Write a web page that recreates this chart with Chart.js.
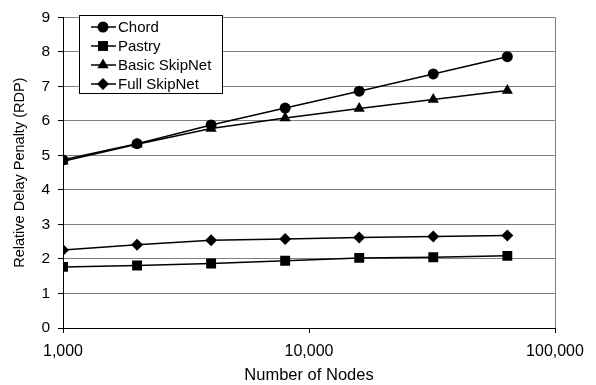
<!DOCTYPE html>
<html>
<head>
<meta charset="utf-8">
<script src="https://cdn.jsdelivr.net/npm/chart.js@4.4.0/dist/chart.umd.min.js"></script>
<style>
  html, body { margin: 0; padding: 0; background: #fff; }
  #wrap { width: 596px; height: 385px; }
</style>
</head>
<body>
<div id="wrap"><canvas id="c" width="596" height="385"></canvas></div>
<script>
// number of nodes (x) and RDP per system
var nodes = [1000, 2000, 4000, 8000, 16000, 32000, 64000];
var xTicks = [1000, 10000, 100000];
var chord = [4.87, 5.34, 5.88, 6.37, 6.86, 7.36, 7.86];
var pastry = [1.77, 1.81, 1.87, 1.95, 2.03, 2.05, 2.09];
var basicSkipNet = [4.83, 5.32, 5.78, 6.08, 6.36, 6.62, 6.88];
var fullSkipNet = [2.26, 2.41, 2.54, 2.58, 2.62, 2.65, 2.68];

var FONT = 'Liberation Sans, Arial, sans-serif';

function pts(vals) {
  return vals.map(function (v, i) { return { x: nodes[i], y: v }; });
}

function series(label, vals, style, r) {
  return {
    label: label,
    data: pts(vals),
    borderColor: '#000',
    backgroundColor: '#000',
    borderWidth: 1.5,
    pointStyle: style,
    pointRadius: r,
    pointHoverRadius: r,
    pointBorderWidth: 0,
    pointBackgroundColor: '#000',
    tension: 0
  };
}

// legend box with line + marker, like the original
var boxLegend = {
  id: 'boxLegend',
  afterDraw: function (chart) {
    var ctx = chart.ctx;
    var x0 = 79, y0 = 15, w = 143, h = 78;
    ctx.save();
    ctx.fillStyle = '#fff';
    ctx.fillRect(x0, y0, w, h);
    ctx.strokeStyle = '#000';
    ctx.lineWidth = 1;
    ctx.strokeRect(x0 + 0.5, y0 + 0.5, w, h);
    chart.data.datasets.forEach(function (ds, i) {
      var y = y0 + 12 + i * 19;
      ctx.strokeStyle = '#000';
      ctx.lineWidth = 1.5;
      ctx.beginPath();
      ctx.moveTo(91, y);
      ctx.lineTo(116, y);
      ctx.stroke();
      ctx.fillStyle = '#000';
      Chart.helpers.drawPoint(ctx, {
        pointStyle: ds.pointStyle, radius: ds.pointRadius, rotation: 0, borderWidth: 0
      }, 103, y);
      ctx.fillStyle = '#000';
      ctx.font = '15px ' + FONT;
      ctx.textBaseline = 'middle';
      ctx.textAlign = 'left';
      ctx.fillText(ds.label, 118, y + 1);
    });
    ctx.restore();
  }
};

// right edge of plot area in gray
var frame = {
  id: 'frame',
  beforeDatasetsDraw: function (chart) {
    var a = chart.chartArea, ctx = chart.ctx;
    ctx.save();
    ctx.strokeStyle = '#808080';
    ctx.lineWidth = 1;
    ctx.beginPath();
    ctx.moveTo(Math.round(a.right) + 0.5, a.top);
    ctx.lineTo(Math.round(a.right) + 0.5, a.bottom);
    ctx.stroke();
    ctx.restore();
  }
};

new Chart(document.getElementById('c').getContext('2d'), {
  type: 'line',
  data: {
    datasets: [
      series('Chord', chord, 'circle', 5.5),
      series('Pastry', pastry, 'rect', 7),
      series('Basic SkipNet', basicSkipNet, 'triangle', 6.5),
      series('Full SkipNet', fullSkipNet, 'rectRot', 6)
    ]
  },
  options: {
    responsive: false,
    animation: false,
    layout: { padding: { left: 0, right: 41, top: 7, bottom: 0 } },
    plugins: { legend: { display: false }, tooltip: { enabled: false } },
    scales: {
      x: {
        type: 'logarithmic',
        min: 1000,
        max: 100000,
        afterBuildTicks: function (s) {
          s.ticks = xTicks.map(function (v) { return { value: v }; });
        },
        afterFit: function (s) { s.height = 57; },
        grid: { display: true, drawOnChartArea: false, tickLength: 5, tickColor: '#000' },
        border: { color: '#000', width: 1 },
        ticks: {
          color: '#000',
          font: { family: FONT, size: 16 },
          padding: 9,
          maxRotation: 0,
          autoSkip: false,
          callback: function (v) { return Number(v).toLocaleString('en-US'); }
        },
        title: {
          display: true,
          text: 'Number of Nodes',
          color: '#000',
          font: { family: FONT, size: 16.5 },
          padding: { top: 0, bottom: 0 }
        }
      },
      y: {
        min: 0,
        max: 9,
        afterFit: function (s) { s.width = 63; },
        ticks: {
          stepSize: 1,
          color: '#000',
          font: { family: FONT, size: 15.5 },
          padding: 8
        },
        grid: { color: '#808080', lineWidth: 1, tickLength: 5, tickColor: '#000' },
        border: { color: '#000', width: 1 },
        title: {
          display: true,
          text: 'Relative Delay Penalty (RDP)',
          color: '#000',
          font: { family: FONT, size: 14.5 },
          padding: { top: 11, bottom: 0 }
        }
      }
    }
  },
  plugins: [frame, boxLegend]
});
</script>
</body>
</html>
